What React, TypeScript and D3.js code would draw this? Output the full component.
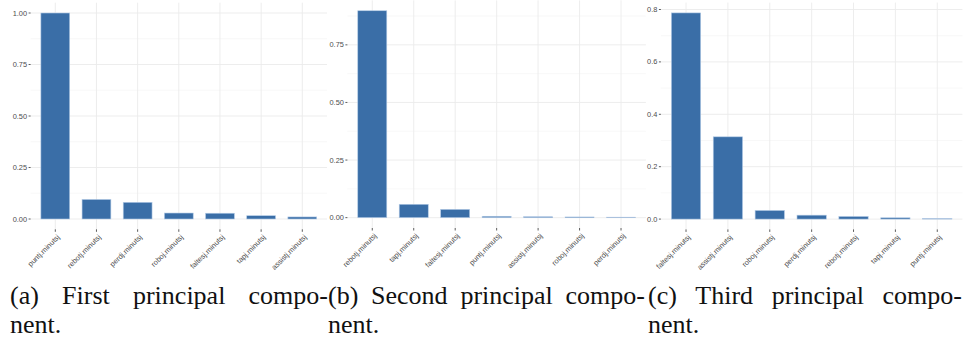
import React, { useEffect, useRef } from "react";
import * as d3 from "d3";

// Loadings of each variable on the first three principal components
const catsA = ["puntj.minutsj", "rebotj.minutsj", "perdj.minutsj", "roboj.minutsj", "faltesj.minutsj", "tapj.minutsj", "assistj.minutsj"];
const valsA = [1.0, 0.095, 0.081, 0.029, 0.028, 0.016, 0.010];
const ticksA = [0, 0.25, 0.5, 0.75, 1.0];
const minorA = [0.125, 0.375, 0.625, 0.875];

const catsB = ["rebotj.minutsj", "tapj.minutsj", "faltesj.minutsj", "puntj.minutsj", "assistj.minutsj", "roboj.minutsj", "perdj.minutsj"];
const valsB = [0.898, 0.058, 0.036, 0.006, 0.004, 0.003, 0.002];
const ticksB = [0, 0.25, 0.5, 0.75];
const minorB = [0.125, 0.375, 0.625, 0.875];

const catsC = ["faltesj.minutsj", "assistj.minutsj", "roboj.minutsj", "perdj.minutsj", "rebotj.minutsj", "tapj.minutsj", "puntj.minutsj"];
const valsC = [0.787, 0.314, 0.033, 0.015, 0.010, 0.005, 0.002];
const ticksC = [0, 0.2, 0.4, 0.6, 0.8];
const minorC = [0.1, 0.3, 0.5, 0.7];

const captionA = ["(a) First principal compo-", "nent."];
const captionB = ["(b) Second principal compo-", "nent."];
const captionC = ["(c) Third principal compo-", "nent."];

const W = 965;
const H = 345;
const BAR = "#3a6ea7";
const GRID = "#ebebeb";
const TEXT = "#4d4d4d";

type PanelProps = {
  cats: string[];
  vals: number[];
  ticks: number[];
  minor: number[];
  digits: number;
  left: number;
  right: number;
  top: number;
  bottom: number;
};

function Panel({ cats, vals, ticks, minor, digits, left, right, top, bottom }: PanelProps) {
  const max = d3.max(vals) as number;
  const y = d3.scaleLinear().domain([-0.05 * max, 1.05 * max]).range([bottom, top]);
  const x = d3.scalePoint<string>().domain(cats).range([left, right]).padding(0.6);
  const step = x.step();
  const bw = step * 0.7;
  const fmt = d3.format(`.${digits}f`);
  return (
    <g>
      {minor.filter((v) => y(v) >= top).map((v) => (
        <line key={"m" + v} x1={left} x2={right} y1={y(v)} y2={y(v)} stroke="#f3f3f3" strokeWidth={0.6} />
      ))}
      {ticks.map((v) => (
        <line key={"g" + v} x1={left} x2={right} y1={y(v)} y2={y(v)} stroke={GRID} strokeWidth={0.9} />
      ))}
      {cats.map((c) => (
        <line key={"v" + c} x1={x(c)} x2={x(c)} y1={top} y2={bottom} stroke={GRID} strokeWidth={0.9} />
      ))}
      {cats.map((c, i) => (
        <rect
          key={"b" + c}
          x={(x(c) as number) - bw / 2}
          y={y(vals[i])}
          width={bw}
          height={y(0) - y(vals[i])}
          fill={BAR}
          stroke="#b4cbe6"
          strokeWidth={0.6}
        />
      ))}
      {ticks.map((v) => (
        <g key={"t" + v}>
          <line x1={left - 2} x2={left} y1={y(v)} y2={y(v)} stroke="#333" strokeWidth={0.8} />
          <text x={left - 3.5} y={y(v)} dy="0.35em" textAnchor="end" fontSize={7.4} fill={TEXT}
            fontFamily="Liberation Sans, Arial, sans-serif">
            {fmt(v)}
          </text>
        </g>
      ))}
      {cats.map((c) => (
        <g key={"xl" + c}>
          <line x1={x(c)} x2={x(c)} y1={bottom} y2={bottom + 2.5} stroke="#333" strokeWidth={0.8} />
          <text
            transform={`translate(${(x(c) as number) + 3},${bottom + 6.5}) rotate(-45)`}
            dy="0.35em"
            textAnchor="end"
            fontSize={7.4}
            fill={TEXT}
            fontFamily="Liberation Sans, Arial, sans-serif"
          >
            {c}
          </text>
        </g>
      ))}
    </g>
  );
}

// Justified first caption line (words spread between x0 and x1), second line left aligned
function Caption({ lines, x0, x1, base }: { lines: string[]; x0: number; x1: number; base: number }) {
  const ref = useRef<SVGGElement>(null);
  const words = lines[0].split(" ");
  useEffect(() => {
    const g = d3.select(ref.current);
    const nodes = g.selectAll<SVGTextElement, unknown>("text.w").nodes();
    const widths = nodes.map((n) => n.getComputedTextLength());
    const total = d3.sum(widths);
    const gap = (x1 - x0 - total) / Math.max(1, nodes.length - 1);
    let cx = x0;
    nodes.forEach((n, i) => {
      d3.select(n).attr("x", cx);
      cx += widths[i] + gap;
    });
  }, [x0, x1]);
  return (
    <g ref={ref} fontFamily="'Liberation Serif', 'DejaVu Serif', serif" fontSize={26} fill="#111">
      {words.map((w, i) => (
        <text key={i} className="w" x={x0} y={base}>
          {w}
        </text>
      ))}
      <text x={x0} y={base + 29}>{lines[1]}</text>
    </g>
  );
}

export default function App() {
  return (
    <div style={{ position: "absolute", left: 0, top: 0, background: "#fff" }}>
      <svg width={W} height={H} viewBox={`0 0 ${W} ${H}`} style={{ display: "block" }}>
        <rect width={W} height={H} fill="#fff" />
        <Panel cats={catsA} vals={valsA} ticks={ticksA} minor={minorA} digits={2} left={30.6} right={327} top={2.7} bottom={229.3} />
        <Panel cats={catsB} vals={valsB} ticks={ticksB} minor={minorB} digits={2} left={347.4} right={645.9} top={0.4} bottom={228} />
        <Panel cats={catsC} vals={valsC} ticks={ticksC} minor={minorC} digits={1} left={660.9} right={962.4} top={2.6} bottom={229.4} />
        <Caption lines={captionA} x0={10} x1={328} base={304} />
        <Caption lines={captionB} x0={328} x1={645} base={304} />
        <Caption lines={captionC} x0={648} x1={962} base={304} />
      </svg>
    </div>
  );
}
